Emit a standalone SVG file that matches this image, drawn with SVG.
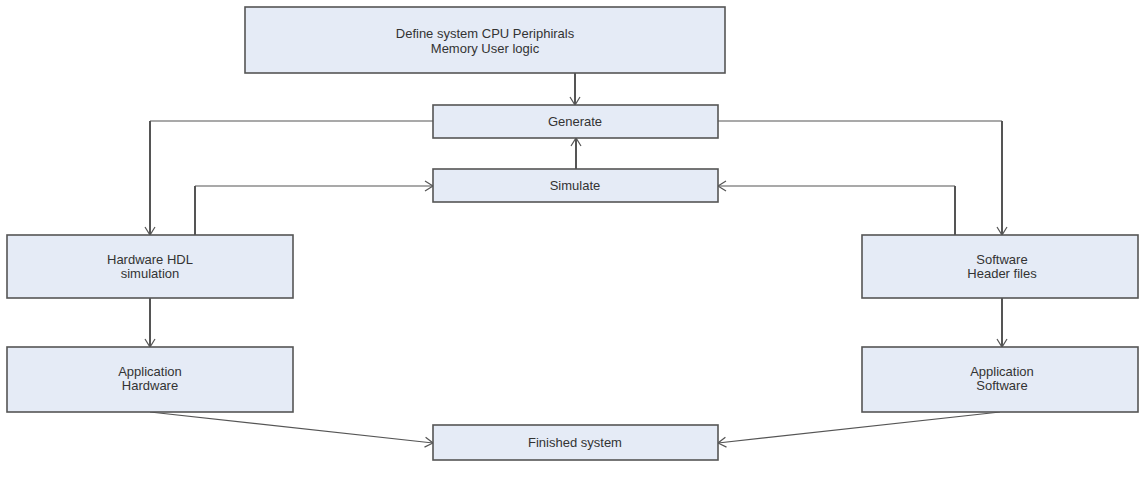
<svg xmlns="http://www.w3.org/2000/svg" width="1141" height="480" viewBox="0 0 1141 480">
  <style>
    .box { fill: #e5ebf6; stroke: #555; stroke-width: 1.6; }
    .edge { fill: none; stroke: #555; stroke-width: 2; }
    .thin { fill: none; stroke: #555; stroke-width: 1.2; }
    .lbl { font-family: "Liberation Sans", Arial, sans-serif; font-size: 13px; fill: #333; text-anchor: middle; }
  </style>
  <defs>
    <marker id="arr" markerWidth="12" markerHeight="12" refX="9" refY="6" orient="auto" markerUnits="userSpaceOnUse">
      <path d="M1,1 L9,6 L1,11" fill="none" stroke="#555" stroke-width="1.2"/>
    </marker>
  </defs>
  <rect width="1141" height="480" fill="#fff"/>

  <g id="connectors">
    <path class="edge" d="M575,73 V105" marker-end="url(#arr)"/>
    <path class="thin" d="M433,121 H150"/>
    <path class="edge" d="M150,121 V235" marker-end="url(#arr)"/>
    <path class="thin" d="M718,121 H1002"/>
    <path class="edge" d="M1002,121 V235" marker-end="url(#arr)"/>
    <path class="edge" d="M195,235 V186"/>
    <path class="thin" d="M195,186 H433" marker-end="url(#arr)"/>
    <path class="edge" d="M955,235 V186"/>
    <path class="thin" d="M955,186 H718" marker-end="url(#arr)"/>
    <path class="edge" d="M576,169 V138" marker-end="url(#arr)"/>
    <path class="edge" d="M150,298 V347" marker-end="url(#arr)"/>
    <path class="edge" d="M1002,298 V347" marker-end="url(#arr)"/>
    <path class="thin" d="M150,412 L433,443" marker-end="url(#arr)"/>
    <path class="thin" d="M1000,412 L718,443" marker-end="url(#arr)"/>
  </g>

  <g id="define">
    <rect class="box" x="245" y="7" width="480" height="66"/>
    <text class="lbl" x="485" y="38">Define system CPU Periphirals</text>
    <text class="lbl" x="485" y="53">Memory User logic</text>
  </g>
  <g id="generate">
    <rect class="box" x="433" y="105" width="285" height="33"/>
    <text class="lbl" x="575" y="126">Generate</text>
  </g>
  <g id="simulate">
    <rect class="box" x="433" y="169" width="285" height="33"/>
    <text class="lbl" x="575" y="190">Simulate</text>
  </g>
  <g id="hw-hdl">
    <rect class="box" x="7" y="235" width="286" height="63"/>
    <text class="lbl" x="150" y="264">Hardware HDL</text>
    <text class="lbl" x="150" y="278">simulation</text>
  </g>
  <g id="sw-headers">
    <rect class="box" x="862" y="235" width="276" height="63"/>
    <text class="lbl" x="1002" y="264">Software</text>
    <text class="lbl" x="1002" y="278">Header files</text>
  </g>
  <g id="app-hw">
    <rect class="box" x="7" y="347" width="286" height="65"/>
    <text class="lbl" x="150" y="376">Application</text>
    <text class="lbl" x="150" y="390">Hardware</text>
  </g>
  <g id="app-sw">
    <rect class="box" x="862" y="347" width="276" height="65"/>
    <text class="lbl" x="1002" y="376">Application</text>
    <text class="lbl" x="1002" y="390">Software</text>
  </g>
  <g id="finished">
    <rect class="box" x="433" y="425" width="285" height="35"/>
    <text class="lbl" x="575" y="447">Finished system</text>
  </g>
</svg>
